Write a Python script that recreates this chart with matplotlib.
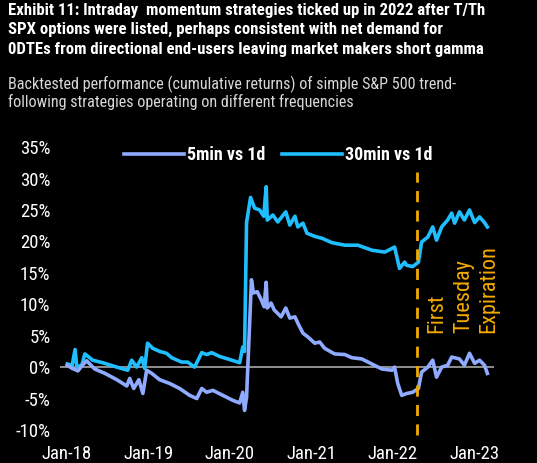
import numpy as np
import pandas as pd
import matplotlib
matplotlib.use('Agg')
import matplotlib.pyplot as plt
import matplotlib.dates as mdates
from matplotlib.ticker import FuncFormatter

plt.rcParams['font.family'] = ['Roboto Condensed', 'Archivo Narrow', 'PT Sans Narrow',
                               'Liberation Sans', 'DejaVu Sans']

# ---- data ----
dates_5min = ['2018-01-02', '2018-01-24', '2018-02-19', '2018-03-08', '2018-03-30', '2018-05-05',
              '2018-06-20', '2018-08-12', '2018-09-26', '2018-10-09', '2018-10-27', '2018-11-19',
              '2018-12-07', '2018-12-24',
              '2019-01-16', '2019-02-20', '2019-04-06', '2019-05-21', '2019-07-05', '2019-08-06',
              '2019-08-28', '2019-09-19', '2019-10-17', '2019-12-01',
              '2020-01-15', '2020-02-14', '2020-02-28', '2020-03-07', '2020-03-16', '2020-04-07',
              '2020-04-16', '2020-05-03', '2020-05-21', '2020-06-03', '2020-06-12', '2020-06-17',
              '2020-07-04', '2020-07-18', '2020-08-18', '2020-09-08', '2020-09-26', '2020-10-19',
              '2020-11-01', '2020-11-24', '2020-12-16',
              '2021-01-16', '2021-02-07', '2021-03-01', '2021-04-15', '2021-05-31', '2021-07-01',
              '2021-08-15', '2021-09-29', '2021-11-13', '2021-12-28',
              '2022-01-09', '2022-01-23', '2022-02-10', '2022-03-04', '2022-03-31', '2022-04-26',
              '2022-05-10', '2022-06-07', '2022-06-29', '2022-07-16', '2022-08-08', '2022-09-04',
              '2022-09-22', '2022-10-27', '2022-11-18', '2022-12-11',
              '2023-01-03', '2023-01-25', '2023-02-16', '2023-03-01']
ret_5min = [0.3, -0.2, -0.6, 0.2, 1.0, -0.3,
            -1.0, -2.0, -3.0, -1.8, -3.4, -2.0,
            -4.2, -0.5,
            -1.0, -2.0, -2.6, -3.4, -4.5, -5.0,
            -3.4, -4.0, -3.7, -4.5,
            -5.3, -5.7, -4.0, -6.9, -4.8, 13.9,
            11.8, 12.0, 10.7, 9.6, 13.5, 9.4,
            10.2, 9.1, 8.0, 9.4, 7.8, 8.0,
            7.0, 5.4, 4.8,
            3.8, 4.0, 3.0, 2.1, 2.0, 1.5,
            1.3, 0.5, -0.3, -0.5,
            0.0, -2.6, -4.5, -4.2, -4.0, -3.4,
            -0.8, 0.0, 1.1, -1.6, 0.0, 0.3,
            1.6, 1.3, 0.3, 2.2,
            0.6, 1.1, 0.3, -1.0]

dates_30min = ['2018-01-02', '2018-01-24', '2018-02-06', '2018-02-14', '2018-03-08', '2018-03-22',
               '2018-04-26', '2018-06-10', '2018-08-12', '2018-09-30', '2018-10-18', '2018-11-09',
               '2018-12-02', '2018-12-15', '2018-12-28',
               '2019-01-20', '2019-02-20', '2019-03-23', '2019-04-15', '2019-05-30', '2019-06-26',
               '2019-07-27', '2019-08-28', '2019-09-19', '2019-10-12', '2019-11-16',
               '2020-01-01', '2020-02-14', '2020-02-28', '2020-03-07', '2020-03-16', '2020-04-03',
               '2020-04-21', '2020-05-14', '2020-06-01', '2020-06-12', '2020-06-17', '2020-07-12',
               '2020-08-03', '2020-09-08', '2020-09-26', '2020-10-19', '2020-11-01', '2020-11-24',
               '2020-12-12',
               '2021-01-16', '2021-02-17', '2021-04-03', '2021-05-31', '2021-07-28', '2021-09-29',
               '2021-11-26',
               '2022-01-09', '2022-01-31', '2022-02-23', '2022-03-04', '2022-03-31', '2022-04-26',
               '2022-05-10', '2022-06-07', '2022-06-29', '2022-07-16', '2022-08-08', '2022-09-04',
               '2022-09-22', '2022-10-05', '2022-10-27', '2022-11-18', '2022-12-11',
               '2023-01-03', '2023-01-25', '2023-02-16', '2023-03-01']
ret_30min = [0.5, 0.3, 2.8, 0.0, 0.3, 2.1,
             1.1, 0.7, 0.0, -0.5, 1.1, 0.0,
             1.5, -0.2, 3.8,
             3.0, 2.5, 2.2, 1.5, 0.8, 0.8,
             0.0, 2.3, 2.0, 2.3, 1.7,
             1.2, 0.7, 3.2, 2.5, 23.0, 27.0,
             25.3, 25.0, 24.0, 28.7, 23.4, 24.2,
             23.1, 24.7, 22.6, 24.0, 22.3, 22.9,
             21.3,
             20.8, 20.5, 19.8, 19.4, 19.4, 18.6,
             18.3,
             19.1, 15.7, 16.7, 16.2, 16.0, 16.7,
             19.9, 20.7, 22.3, 20.2, 22.3, 23.4,
             24.5, 22.9, 24.7, 23.4, 25.0,
             23.0, 23.9, 23.0, 22.3]

tuesday_expiry = '2022-04-18'
expiry_labels = ['First', 'Tuesday', 'Expiration']
yticks = [-10, -5, 0, 5, 10, 15, 20, 25, 30, 35]
xtick_dates = ['2018-01-01', '2019-01-01', '2020-01-01', '2021-01-01', '2022-01-01', '2023-01-01']

title = ('Exhibit 11: Intraday  momentum strategies ticked up in 2022 after T/Th\n'
         'SPX options were listed, perhaps consistent with net demand for\n'
         '0DTEs from directional end-users leaving market makers short gamma')
subtitle = ('Backtested performance (cumulative returns) of simple S&P 500 trend-\n'
            'following strategies operating on different frequencies')

c_5min = '#8FAAFF'
c_30min = '#1FBEFF'
c_dash = '#F2AA00'

# ---- figure ----
fig = plt.figure(figsize=(5.37, 4.63), dpi=100, facecolor='black')
ax = fig.add_axes([0.112, 0.0605, 0.808, 0.6285], facecolor='black')

fig.text(0.015, 0.994, title, color='white', fontsize=12.1, fontweight='bold',
         va='top', ha='left', linespacing=1.37)
fig.text(0.015, 0.836, subtitle, color='#D8D8D8', fontsize=11.6,
         va='top', ha='left', linespacing=1.08)

ax.axhline(0, color='#A8A8A8', lw=1.2, zorder=1)
ax.plot(pd.to_datetime(dates_5min), ret_5min, color=c_5min, lw=2.6, label='5min vs 1d', zorder=3)
ax.plot(pd.to_datetime(dates_30min), ret_30min, color=c_30min, lw=2.6, label='30min vs 1d', zorder=2)

# tuesday expiration marker
tx = pd.to_datetime(tuesday_expiry)
ax.plot([tx, tx], [-10.8, 31], color=c_dash, lw=2, ls=(0, (4, 3)), zorder=4, clip_on=False)
for lbl, dd in zip(expiry_labels, [90, 210, 322]):
    ax.text(tx + pd.Timedelta(days=dd), 5.4, lbl, rotation=90, color=c_dash, fontsize=16,
            ha='center', va='bottom')

ax.set_ylim(-10.8, 35.5)
ax.set_xlim(pd.Timestamp('2017-12-01'), pd.Timestamp('2023-03-31'))
ax.set_yticks(yticks)
ax.yaxis.set_major_formatter(FuncFormatter(lambda v, p: '%d%%' % v))
ax.set_xticks(pd.to_datetime(xtick_dates))
ax.xaxis.set_major_formatter(mdates.DateFormatter('%b-%y'))
ax.tick_params(colors='white', labelsize=13.5, length=0, pad=7)
for s in ax.spines.values():
    s.set_visible(False)

leg = ax.legend(loc='center', bbox_to_anchor=(0.503, 0.962), ncol=2, frameon=False,
                fontsize=13, handlelength=3.3, handletextpad=0.2, columnspacing=0.9)
for t in leg.get_texts():
    t.set_color('white')
    t.set_fontweight('bold')

fig.savefig('out.png', dpi=100, facecolor='black')
